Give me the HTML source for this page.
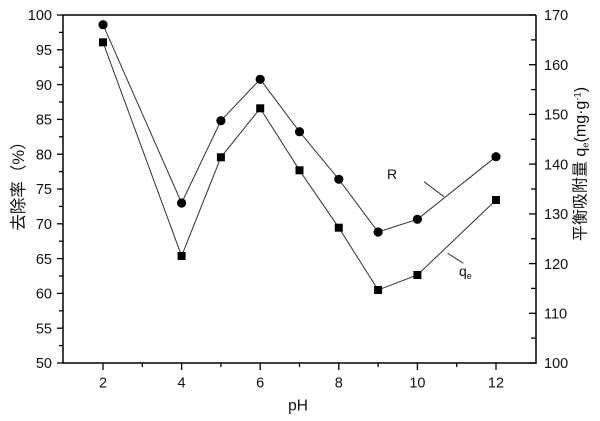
<!DOCTYPE html>
<html><head><meta charset="utf-8"><style>
html,body{margin:0;padding:0;background:#fff;}
svg{display:block;}
text{font-family:"Liberation Sans","Noto Sans CJK SC",sans-serif;fill:#111;}
</style></head><body>
<svg width="600" height="421" viewBox="0 0 600 421" xmlns="http://www.w3.org/2000/svg">
<rect width="600" height="421" fill="#fff"/>
<!-- frame -->
<g stroke="#000" stroke-width="1.5" fill="none">
<line x1="63" y1="15" x2="536" y2="15"/>
<line x1="63" y1="15" x2="63" y2="363.5"/>
<line x1="536" y1="15" x2="536" y2="363.5"/>
<line x1="62.3" y1="363" x2="536.7" y2="363"/>
</g>
<!-- left ticks -->
<g stroke="#000" stroke-width="1.3">
<line x1="57" y1="15" x2="63" y2="15"/><line x1="59" y1="32.4" x2="63" y2="32.4"/>
<line x1="57" y1="49.8" x2="63" y2="49.8"/><line x1="59" y1="67.2" x2="63" y2="67.2"/>
<line x1="57" y1="84.6" x2="63" y2="84.6"/><line x1="59" y1="102" x2="63" y2="102"/>
<line x1="57" y1="119.4" x2="63" y2="119.4"/><line x1="59" y1="136.8" x2="63" y2="136.8"/>
<line x1="57" y1="154.2" x2="63" y2="154.2"/><line x1="59" y1="171.6" x2="63" y2="171.6"/>
<line x1="57" y1="189" x2="63" y2="189"/><line x1="59" y1="206.4" x2="63" y2="206.4"/>
<line x1="57" y1="223.8" x2="63" y2="223.8"/><line x1="59" y1="241.2" x2="63" y2="241.2"/>
<line x1="57" y1="258.6" x2="63" y2="258.6"/><line x1="59" y1="276" x2="63" y2="276"/>
<line x1="57" y1="293.4" x2="63" y2="293.4"/><line x1="59" y1="310.8" x2="63" y2="310.8"/>
<line x1="57" y1="328.2" x2="63" y2="328.2"/><line x1="59" y1="345.6" x2="63" y2="345.6"/>
<line x1="57" y1="363" x2="63" y2="363"/>
</g>
<!-- right ticks (inward) -->
<g stroke="#000" stroke-width="1.3">
<line x1="529" y1="15" x2="536" y2="15"/><line x1="531" y1="39.9" x2="536" y2="39.9"/>
<line x1="529" y1="64.7" x2="536" y2="64.7"/><line x1="531" y1="89.6" x2="536" y2="89.6"/>
<line x1="529" y1="114.4" x2="536" y2="114.4"/><line x1="531" y1="139.3" x2="536" y2="139.3"/>
<line x1="529" y1="164.1" x2="536" y2="164.1"/><line x1="531" y1="189" x2="536" y2="189"/>
<line x1="529" y1="213.9" x2="536" y2="213.9"/><line x1="531" y1="238.7" x2="536" y2="238.7"/>
<line x1="529" y1="263.6" x2="536" y2="263.6"/><line x1="531" y1="288.4" x2="536" y2="288.4"/>
<line x1="529" y1="313.3" x2="536" y2="313.3"/><line x1="531" y1="338.1" x2="536" y2="338.1"/>
<line x1="529" y1="363" x2="536" y2="363"/>
</g>
<!-- bottom ticks -->
<g stroke="#000" stroke-width="1.3">
<line x1="103" y1="363" x2="103" y2="370"/><line x1="142.3" y1="363" x2="142.3" y2="367"/>
<line x1="181.6" y1="363" x2="181.6" y2="370"/><line x1="220.9" y1="363" x2="220.9" y2="367"/>
<line x1="260.2" y1="363" x2="260.2" y2="370"/><line x1="299.5" y1="363" x2="299.5" y2="367"/>
<line x1="338.8" y1="363" x2="338.8" y2="370"/><line x1="378.1" y1="363" x2="378.1" y2="367"/>
<line x1="417.4" y1="363" x2="417.4" y2="370"/><line x1="456.7" y1="363" x2="456.7" y2="367"/>
<line x1="496" y1="363" x2="496" y2="370"/>
</g>
<!-- left tick labels -->
<g font-size="14.5" text-anchor="end">
<text x="52" y="20.2">100</text><text x="52" y="55">95</text><text x="52" y="89.8">90</text>
<text x="52" y="124.6">85</text><text x="52" y="159.4">80</text><text x="52" y="194.2">75</text>
<text x="52" y="229">70</text><text x="52" y="263.8">65</text><text x="52" y="298.6">60</text>
<text x="52" y="333.4">55</text><text x="52" y="368.2">50</text>
</g>
<!-- right tick labels -->
<g font-size="14.5" text-anchor="start">
<text x="544" y="20.2">170</text><text x="544" y="69.9">160</text><text x="544" y="119.6">150</text>
<text x="544" y="169.3">140</text><text x="544" y="219.1">130</text><text x="544" y="268.8">120</text>
<text x="544" y="318.5">110</text><text x="544" y="368.2">100</text>
</g>
<!-- bottom tick labels -->
<g font-size="14.5" text-anchor="middle">
<text x="103" y="387.5">2</text><text x="181.6" y="387.5">4</text><text x="260.2" y="387.5">6</text>
<text x="338.8" y="387.5">8</text><text x="417.4" y="387.5">10</text><text x="496" y="387.5">12</text>
</g>
<text x="298" y="410.5" font-size="15.5" text-anchor="middle">pH</text>
<!-- axis titles -->
<text transform="translate(24,182) rotate(-90)" font-size="16.5" text-anchor="middle">去除率（%）</text>
<text transform="translate(585.5,164) rotate(-90)" font-size="16" text-anchor="middle">平衡吸附量 q<tspan font-size="9.5" dy="3">e</tspan><tspan dy="-3">(mg·g</tspan><tspan font-size="9.5" dy="-5">-1</tspan><tspan dy="5">)</tspan></text>
<!-- series lines -->
<polyline fill="none" stroke="#333" stroke-width="1" points="103,24.7 181.6,203 220.9,120.7 260.2,79.3 299.5,131.7 338.8,179.3 378.1,232 417.4,219.3 496,156.7"/>
<polyline fill="none" stroke="#333" stroke-width="1" points="103,42.3 181.6,256 220.9,157.3 260.2,108.3 299.5,170.3 338.8,227.7 378.1,290 417.4,275 496,200"/>
<!-- circles -->
<g fill="#000">
<circle cx="103" cy="24.7" r="4.6"/><circle cx="181.6" cy="203" r="4.6"/><circle cx="220.9" cy="120.7" r="4.6"/>
<circle cx="260.2" cy="79.3" r="4.6"/><circle cx="299.5" cy="131.7" r="4.6"/><circle cx="338.8" cy="179.3" r="4.6"/>
<circle cx="378.1" cy="232" r="4.6"/><circle cx="417.4" cy="219.3" r="4.6"/><circle cx="496" cy="156.7" r="4.6"/>
</g>
<!-- squares -->
<g fill="#000">
<rect x="99" y="38.3" width="8" height="8"/><rect x="177.6" y="252" width="8" height="8"/>
<rect x="216.9" y="153.3" width="8" height="8"/><rect x="256.2" y="104.3" width="8" height="8"/>
<rect x="295.5" y="166.3" width="8" height="8"/><rect x="334.8" y="223.7" width="8" height="8"/>
<rect x="374.1" y="286" width="8" height="8"/><rect x="413.4" y="271" width="8" height="8"/>
<rect x="492" y="196" width="8" height="8"/>
</g>
<!-- annotations -->
<text x="387" y="179" font-size="14">R</text>
<line x1="424" y1="181.7" x2="444" y2="196.7" stroke="#333" stroke-width="1"/>
<text x="459" y="276" font-size="14">q<tspan font-size="9" dy="3">e</tspan></text>
<line x1="447.7" y1="253.3" x2="463.3" y2="263.3" stroke="#333" stroke-width="1"/>
</svg>
</body></html>
